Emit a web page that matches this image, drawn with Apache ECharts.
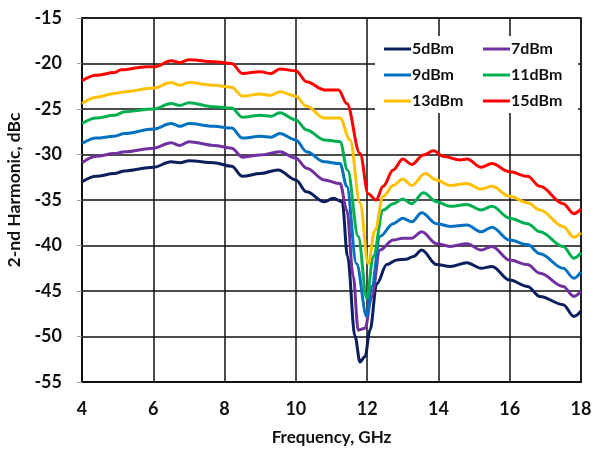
<!DOCTYPE html>
<html>
<head>
<meta charset="utf-8">
<script src="https://cdn.jsdelivr.net/npm/echarts@6/dist/echarts.min.js"></script>
<style>html,body{margin:0;padding:0;background:#fff}#c{width:596px;height:449px}</style>
</head>
<body>
<div id="c"></div>
<script>
const seriesNames = ['5dBm', '7dBm', '9dBm', '11dBm', '13dBm', '15dBm'];
const xTicks = [4, 6, 8, 10, 12, 14, 16, 18];
const yTicks = [-55, -50, -45, -40, -35, -30, -25, -20, -15];

const f5 = [4.0, 4.4, 4.9, 5.2, 6.0, 6.5, 6.75, 7.0, 7.7, 8.2, 8.5, 9.0, 9.5, 10.0, 10.3, 10.8, 11.05, 11.3, 11.45, 11.66, 11.8, 11.94, 12.08, 12.27, 12.55, 12.83, 13.1, 13.3, 13.53, 13.95, 14.33, 14.8, 15.2, 15.5, 16.0, 16.5, 16.85, 17.5, 17.8, 18.0];
const v5 = [-33.0, -32.4, -32.1, -31.8, -31.4, -30.8, -30.9, -30.7, -30.9, -31.3, -32.4, -32.1, -31.7, -32.8, -34.1, -35.2, -34.8, -35.2, -41.2, -50.0, -52.8, -52.2, -49.3, -44.2, -42.1, -41.6, -41.5, -41.2, -40.5, -42.1, -42.3, -41.9, -42.5, -42.3, -43.8, -44.5, -45.6, -46.5, -47.8, -47.2];

const f7 = [4.0, 4.4, 4.9, 5.2, 6.0, 6.5, 6.75, 7.0, 7.7, 8.2, 8.5, 9.0, 9.55, 10.0, 10.3, 10.8, 11.24, 11.43, 11.61, 11.75, 11.94, 12.13, 12.36, 12.73, 13.0, 13.25, 13.53, 13.95, 14.33, 14.8, 15.2, 15.5, 16.0, 16.5, 16.85, 17.5, 17.8, 18.0];
const v7 = [-30.9, -30.2, -29.9, -29.7, -29.3, -28.7, -29.0, -28.6, -29.0, -29.3, -30.3, -30.05, -29.7, -30.4, -31.5, -32.8, -33.2, -36.1, -43.4, -49.3, -49.1, -45.6, -40.5, -39.4, -39.2, -39.2, -38.5, -39.8, -40.1, -39.8, -40.5, -40.1, -41.6, -42.1, -43.05, -44.5, -45.6, -45.0];

const f9 = [4.0, 4.4, 4.9, 5.2, 6.0, 6.5, 6.75, 7.0, 7.7, 8.2, 8.5, 9.0, 9.3, 9.55, 10.0, 10.3, 10.8, 11.24, 11.43, 11.7, 11.99, 12.13, 12.36, 12.73, 13.0, 13.25, 13.53, 13.95, 14.33, 14.8, 15.2, 15.5, 16.0, 16.5, 16.85, 17.5, 17.8, 18.0];
const v9 = [-28.8, -28.2, -28.0, -27.7, -27.2, -26.6, -26.9, -26.6, -26.9, -27.1, -28.2, -28.0, -28.1, -27.7, -28.4, -29.7, -30.8, -31.0, -33.5, -42.0, -47.8, -44.5, -39.0, -37.6, -37.0, -37.4, -36.4, -37.6, -37.9, -37.75, -38.5, -38.0, -39.4, -39.9, -40.9, -42.5, -43.6, -42.9];

const f11 = [4.0, 4.4, 4.9, 5.2, 6.0, 6.5, 6.75, 7.0, 7.7, 8.2, 8.5, 9.0, 9.3, 9.55, 10.0, 10.3, 10.8, 11.24, 11.45, 11.75, 11.99, 12.17, 12.45, 12.73, 13.0, 13.25, 13.58, 13.95, 14.33, 14.8, 15.2, 15.5, 16.0, 16.5, 16.85, 17.5, 17.8, 18.0];
const v11 = [-26.6, -26.0, -25.7, -25.3, -25.0, -24.4, -24.6, -24.3, -24.75, -24.9, -25.9, -25.7, -25.8, -25.4, -26.2, -27.3, -28.4, -28.6, -31.7, -39.0, -45.8, -41.2, -36.1, -35.4, -34.9, -35.4, -34.2, -35.2, -35.7, -35.5, -36.1, -35.7, -37.0, -37.6, -38.5, -40.1, -41.4, -40.8];

const f13 = [4.0, 4.4, 4.9, 5.2, 6.0, 6.5, 6.75, 7.0, 7.7, 8.2, 8.5, 9.0, 9.3, 9.55, 10.0, 10.3, 10.8, 11.24, 11.52, 11.8, 12.03, 12.22, 12.45, 12.73, 13.0, 13.25, 13.63, 13.95, 14.33, 14.8, 15.2, 15.5, 16.0, 16.5, 16.85, 17.5, 17.8, 18.0];
const v13 = [-24.4, -23.7, -23.3, -23.1, -22.7, -22.1, -22.4, -22.1, -22.4, -22.6, -23.6, -23.35, -23.5, -23.1, -23.6, -24.7, -26.0, -26.0, -28.4, -35.3, -42.0, -38.3, -34.6, -33.4, -32.7, -33.4, -32.1, -32.8, -33.4, -33.2, -33.8, -33.5, -34.6, -35.3, -36.1, -37.9, -39.1, -38.6];

const f15 = [4.0, 4.4, 4.9, 5.1, 5.8, 6.05, 6.5, 6.75, 7.0, 7.7, 8.2, 8.5, 9.0, 9.3, 9.55, 10.0, 10.3, 10.8, 11.2, 11.43, 11.8, 12.03, 12.25, 12.45, 12.73, 13.0, 13.25, 13.58, 13.86, 14.14, 14.6, 14.8, 15.2, 15.5, 16.0, 16.5, 16.85, 17.5, 17.8, 18.0];
const v15 = [-21.9, -21.3, -21.0, -20.7, -20.35, -20.35, -19.7, -19.9, -19.6, -19.8, -20.0, -21.1, -20.9, -21.1, -20.6, -20.8, -22.0, -22.9, -22.9, -24.4, -29.9, -34.3, -35.0, -33.5, -31.7, -30.5, -31.1, -30.05, -29.6, -30.2, -30.6, -30.5, -31.4, -31.0, -31.9, -32.4, -33.5, -35.4, -36.5, -36.0];

const colors = ['#0B1F5C', '#7030A0', '#0070C0', '#00B050', '#FFC000', '#FF0000'];
const freqs = [f5, f7, f9, f11, f13, f15];
const vals = [v5, v7, v9, v11, v13, v15];

const FONT = 'Lato, "Open Sans", sans-serif';
const chart = echarts.init(document.getElementById('c'));

const series = seriesNames.map((name, i) => ({
  name: name,
  type: 'line',
  data: freqs[i].map((f, j) => [f, vals[i][j]]),
  showSymbol: false,
  symbol: 'none',
  smooth: 0.35,
  smoothMonotone: 'x',
  lineStyle: { width: 3, color: colors[i] },
  itemStyle: { color: colors[i] },
  z: 2
}));

const legendCommon = {
  orient: 'vertical',
  top: 41,
  icon: 'path://M0,0H27V3H0Z',
  itemWidth: 27,
  itemHeight: 3,
  itemGap: 10,
  textStyle: { fontFamily: FONT, fontWeight: 'bold', fontSize: 16, lineHeight: 16, color: '#111', padding: [0, 0, 0, -4] },
  padding: 0
};

chart.setOption({
  animation: false,
  backgroundColor: '#fff',
  color: colors,
  grid: { left: 82, right: 15, top: 18, bottom: 67, show: true, borderColor: '#111', borderWidth: 1.5, z: 0, containLabel: false, outerBoundsMode: 'none' },
  graphic: [{
    type: 'rect', z: 1, zlevel: 0,
    shape: { x: 375, y: 36, width: 203, height: 77 },
    style: { fill: '#fff' }
  }],
  legend: [
    Object.assign({}, legendCommon, { left: 384, data: [seriesNames[0], seriesNames[2], seriesNames[4]] }),
    Object.assign({}, legendCommon, { left: 483, data: [seriesNames[1], seriesNames[3], seriesNames[5]] })
  ],
  xAxis: {
    type: 'value', min: xTicks[0], max: xTicks[xTicks.length - 1], interval: 2,
    name: 'Frequency, GHz', nameLocation: 'middle', nameGap: 47,
    nameTextStyle: { fontFamily: FONT, fontWeight: 'bold', fontSize: 17, color: '#111' },
    axisLine: { lineStyle: { color: '#111', width: 2 } },
    axisTick: { show: false },
    axisLabel: { fontFamily: FONT, fontWeight: 'bold', fontSize: 18, color: '#111', margin: 18 },
    splitLine: { show: true, lineStyle: { color: '#111', width: 1.5 } }
  },
  yAxis: {
    type: 'value', min: yTicks[0], max: yTicks[yTicks.length - 1], interval: 5,
    name: '2-nd Harmonic, dBc', nameLocation: 'middle', nameGap: 56,
    nameTextStyle: { fontFamily: FONT, fontWeight: 'bold', fontSize: 17.5, color: '#111', padding: [0, 0, 0, 20] },
    axisLine: { show: true, lineStyle: { color: '#111', width: 2 } },
    axisTick: { show: true, length: 5, lineStyle: { color: '#999', width: 1 } },
    axisLabel: { fontFamily: FONT, fontWeight: 'bold', fontSize: 18, color: '#111', margin: 20 },
    splitLine: { show: true, lineStyle: { color: '#111', width: 1.5 } }
  },
  series: series
});
</script>
</body>
</html>
